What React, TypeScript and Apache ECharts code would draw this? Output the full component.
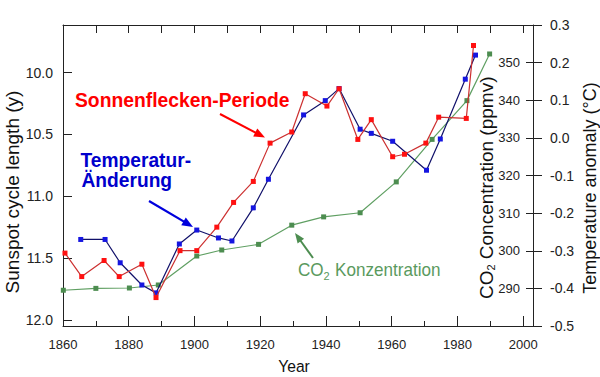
import React, { useEffect, useRef } from 'react';
import * as echarts from 'echarts';

const FONT = '"Liberation Sans", Arial, Helvetica, sans-serif';

// Sunspot cycle length (years) – red, left axis (inverted)
const sunspotYears = [1860.6, 1865.7, 1872.5, 1877.1, 1884.0, 1888.3, 1895.6, 1900.7, 1906.8, 1911.9, 1917.9, 1923.0, 1929.6, 1933.7, 1940.3, 1944.0, 1949.7, 1953.8, 1960.3, 1963.9, 1970.4, 1974.3, 1982.7, 1984.9];
const sunspotLength = [11.46, 11.65, 11.52, 11.65, 11.55, 11.82, 11.44, 11.44, 11.25, 11.05, 10.88, 10.57, 10.48, 10.17, 10.27, 10.13, 10.54, 10.38, 10.68, 10.66, 10.57, 10.36, 10.37, 9.78];

// Temperature anomaly (°C) – blue, right axis
const tempYears = [1865.4, 1872.8, 1877.4, 1884.0, 1888.3, 1895.4, 1900.7, 1907.3, 1911.4, 1917.9, 1922.5, 1933.2, 1939.8, 1944.0, 1950.4, 1953.8, 1960.3, 1970.6, 1974.8, 1982.4, 1985.5];
const tempAnomaly = [-0.27, -0.27, -0.332, -0.391, -0.412, -0.282, -0.245, -0.266, -0.274, -0.186, -0.11, 0.061, 0.099, 0.131, 0.023, 0.012, -0.009, -0.086, -0.003, 0.156, 0.22];

// CO2 concentration (ppmv) – green, inner right axis
const co2Years = [1860.1, 1870.0, 1880.2, 1889.0, 1900.7, 1908.3, 1919.5, 1929.6, 1939.3, 1950.4, 1961.4, 1972.3, 1982.9, 1989.8];
const co2Ppmv = [289.5, 290.0, 290.1, 290.9, 298.6, 300.2, 301.7, 306.8, 309.0, 310.1, 318.3, 329.6, 339.9, 352.3];

// Tick labels
const yearLabels = [1860, 1880, 1900, 1920, 1940, 1960, 1980, 2000];
const yearMinorTicks = [1870, 1890, 1910, 1930, 1950, 1970, 1990];
const yearTopTicks = [1870, 1880, 1890, 1900, 1910, 1920, 1930, 1940, 1950, 1960, 1970, 1980, 1990, 2000];
const sunspotTicks = [10, 10.5, 11, 11.5, 12];
const tempTicks = [-0.5, -0.4, -0.3, -0.2, -0.1, 0, 0.1, 0.2, 0.3];
const co2Ticks = [290, 300, 310, 320, 330, 340, 350];

function arrow(x1: number, y1: number, x2: number, y2: number, color: string, lw: number, headLen: number, headW: number) {
  const dx = x2 - x1, dy = y2 - y1;
  const L = Math.hypot(dx, dy);
  const ux = dx / L, uy = dy / L;
  const bx = x2 - ux * headLen, by = y2 - uy * headLen;
  const px = -uy, py = ux;
  return [
    { type: 'line', silent: true, shape: { x1, y1, x2: bx + ux * 2, y2: by + uy * 2 }, style: { stroke: color, lineWidth: lw } },
    { type: 'polygon', silent: true, shape: { points: [[x2, y2], [bx + px * headW, by + py * headW], [bx - px * headW, by - py * headW]] }, style: { fill: color } },
  ];
}

function txt(text: string, x: number, y: number, o: any = {}) {
  const align = o.align || 'left';
  return {
    type: 'text', x, y, silent: true,
    scaleX: o.scaleX ?? 1,
    rotation: o.rotation ?? 0,
    style: {
      text,
      fontFamily: FONT,
      fontSize: o.size || 16,
      fontWeight: o.weight || 'normal',
      fill: o.color || '#111',
      align, textAlign: align,
      verticalAlign: 'middle', textVerticalAlign: 'middle',
    },
  };
}

const fmt1 = (v: number) => (Math.abs(v) < 1e-9 ? '0.0' : v.toFixed(1));

export default function App() {
  const ref = useRef<HTMLDivElement>(null);
  useEffect(() => {
    if (!ref.current) return;
    const chart = echarts.init(ref.current, null, { renderer: 'svg' });
    const axisColor = '#222';
    const xMin = 1860, xMax = 2003;
    const baseX = { type: 'value', min: xMin, max: xMax, splitLine: { show: false } };
    const rot = Math.PI / 2;
    const option: any = {
      animation: false,
      backgroundColor: '#fff',
      grid: { left: 63, right: 67, top: 25, bottom: 51, containLabel: false },
      xAxis: [
        {
          ...baseX, position: 'bottom',
          axisLine: { show: true, onZero: false, lineStyle: { color: axisColor, width: 1 } },
          axisTick: { show: true, inside: true, length: 10, customValues: yearLabels, lineStyle: { color: axisColor } },
          axisLabel: { customValues: yearLabels, formatter: (v: number) => String(Math.round(v)), fontSize: 13, fontFamily: FONT, color: '#222', margin: 12 },
        },
        {
          ...baseX, position: 'bottom',
          axisLine: { show: false, onZero: false },
          axisTick: { show: true, inside: true, length: 5, customValues: yearMinorTicks, lineStyle: { color: axisColor } },
          axisLabel: { show: false },
        },
        {
          ...baseX, position: 'top',
          axisLine: { show: true, onZero: false, lineStyle: { color: axisColor, width: 1 } },
          axisTick: { show: true, inside: true, length: 8, customValues: yearTopTicks, lineStyle: { color: axisColor } },
          axisLabel: { show: false },
        },
      ],
      yAxis: [
        {
          type: 'value', position: 'left', inverse: true, min: 9.614, max: 12.05,
          splitLine: { show: false },
          axisLine: { show: true, onZero: false, lineStyle: { color: axisColor, width: 1 } },
          axisTick: { show: true, inside: true, length: 9, customValues: sunspotTicks, lineStyle: { color: axisColor } },
          axisLabel: { customValues: sunspotTicks, formatter: fmt1, fontSize: 14, fontFamily: FONT, color: '#222', margin: 10 },
        },
        {
          type: 'value', position: 'right', min: -0.5, max: 0.3,
          splitLine: { show: false },
          axisLine: { show: true, onZero: false, lineStyle: { color: axisColor, width: 1 } },
          axisTick: { show: true, inside: false, length: 9, customValues: tempTicks, lineStyle: { color: axisColor } },
          axisLabel: { customValues: tempTicks, formatter: fmt1, fontSize: 14, fontFamily: FONT, color: '#222', margin: 17 },
        },
        {
          type: 'value', position: 'right', offset: 0, min: 280, max: 360,
          splitLine: { show: false },
          axisLine: { show: false, onZero: false },
          axisTick: { show: true, inside: true, length: 7, customValues: co2Ticks, lineStyle: { color: axisColor } },
          axisLabel: { inside: true, customValues: co2Ticks, fontSize: 13, fontFamily: FONT, color: '#222', margin: 13 },
        },
      ],
      series: [
        {
          type: 'line', name: 'CO2 Konzentration', xAxisIndex: 0, yAxisIndex: 2, clip: false,
          data: co2Years.map((y, i) => [y, co2Ppmv[i]]),
          symbol: 'rect', symbolSize: 5,
          lineStyle: { color: '#5f9f62', width: 1.2 },
          itemStyle: { color: '#4d8d50' },
          z: 2,
        },
        {
          type: 'line', name: 'Temperatur-Änderung', xAxisIndex: 0, yAxisIndex: 1, clip: false,
          data: tempYears.map((y, i) => [y, tempAnomaly[i]]),
          symbol: 'rect', symbolSize: 5,
          lineStyle: { color: '#10106a', width: 1.2 },
          itemStyle: { color: '#1515e0' },
          z: 3,
        },
        {
          type: 'line', name: 'Sonnenflecken-Periode', xAxisIndex: 0, yAxisIndex: 0, clip: false,
          data: sunspotYears.map((y, i) => [y, sunspotLength[i]]),
          symbol: 'rect', symbolSize: 5,
          lineStyle: { color: '#cc3030', width: 1.2 },
          itemStyle: { color: '#ff1010' },
          z: 4,
        },
      ],
      graphic: [
        // axis titles
        txt('Sunspot cycle length (y)', 12, 192, { size: 19, align: 'center', rotation: rot }),
        txt('Year', 294, 366, { size: 17, align: 'center', scaleX: 0.92 }),
        txt('Temperature anomaly (°C)', 590, 188, { size: 18, align: 'center', rotation: rot }),
        {
          type: 'group', x: 486, y: 299, rotation: rot, silent: true,
          children: [
            txt('CO', 0, 0, { size: 19 }),
            txt('2', 28.5, 5, { size: 11 }),
            txt(' Concentration (ppmv)', 34.5, 0, { size: 19 }),
          ],
        },
        // annotations
        txt('Sonnenflecken-Periode', 75, 99.5, { size: 21, weight: 'bold', color: '#ff0000', scaleX: 0.92 }),
        txt('Temperatur-', 80.5, 159.5, { size: 21, weight: 'bold', color: '#0000cc', scaleX: 0.914 }),
        txt('Änderung', 81.5, 180, { size: 21, weight: 'bold', color: '#0000cc', scaleX: 0.914 }),
        txt('CO', 298, 269.5, { size: 18, color: '#5a9a5e', scaleX: 0.95 }),
        txt('2', 323.5, 276, { size: 11, color: '#5a9a5e' }),
        txt('Konzentration', 335, 269.5, { size: 18, color: '#5a9a5e', scaleX: 0.95 }),
        ...arrow(220, 114, 265, 137.5, '#ff0000', 2, 11, 4.5),
        ...arrow(149, 201, 193, 227, '#0000dd', 2.2, 11, 4.5),
        ...arrow(313, 258, 295, 233, '#4d8d50', 2, 10, 4),
      ],
    };
    chart.setOption(option);
    return () => chart.dispose();
  }, []);
  return <div ref={ref} style={{ position: 'absolute', left: 0, top: 0, width: 600, height: 377 }} />;
}
